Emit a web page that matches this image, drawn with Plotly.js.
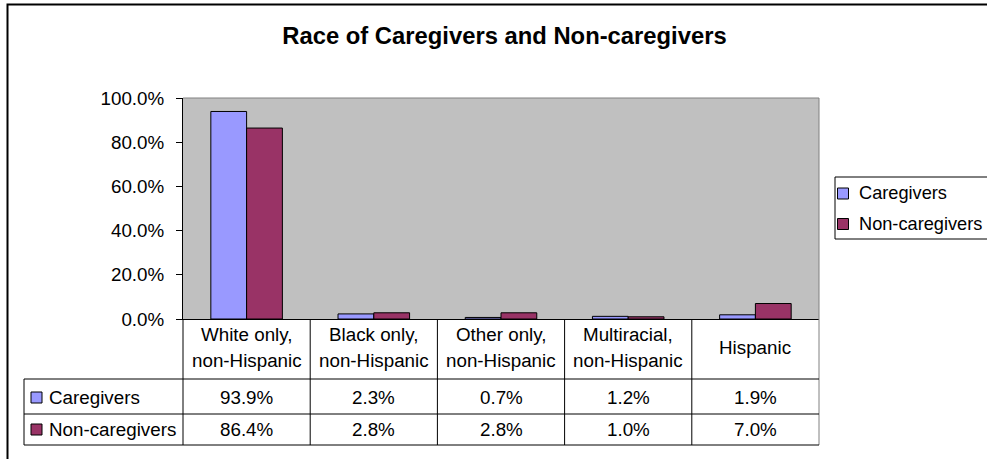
<!DOCTYPE html>
<html>
<head>
<meta charset="utf-8">
<script src="https://cdn.plot.ly/plotly-3.0.1.min.js"></script>
<style>html,body{margin:0;padding:0;background:#fff;}#chart{width:987px;height:459px;}</style>
</head>
<body>
<div id="chart"></div>
<script>
// ---- data ----
const chartTitle = "Race of Caregivers and Non-caregivers";
const categories = ["White only, non-Hispanic", "Black only, non-Hispanic", "Other only, non-Hispanic", "Multiracial, non-Hispanic", "Hispanic"];
const seriesNames = ["Caregivers", "Non-caregivers"];
const caregivers = [0.939, 0.023, 0.007, 0.012, 0.019];
const nonCaregivers = [0.864, 0.028, 0.028, 0.010, 0.070];
const yTicks = [0, 0.2, 0.4, 0.6, 0.8, 1.0];
const seriesColors = ["#9999FF", "#993366"];

// ---- layout helpers (pixel -> paper) ----
const W = 987, H = 459;
const ML = 183, MR = 168, MT = 98, MB = 140;
const PW = W - ML - MR, PH = H - MT - MB;
const px = v => (v - ML) / PW;
const py = v => (H - MB - v) / PH;
const FONT = "Liberation Sans, Arial, sans-serif";
const FS = 18.8;
const LEGFS = 18.2;

const seriesValues = [caregivers, nonCaregivers];

const traces = seriesNames.map((name, s) => ({
  type: "bar",
  name: name,
  x: categories,
  y: seriesValues[s],
  marker: { color: seriesColors[s], line: { color: "#000", width: 1 } },
  hoverinfo: "skip"
}));

const shapes = [];
const annotations = [];
const line = (x0, y0, x1, y1, color, width) => shapes.push({
  type: "line", xref: "paper", yref: "paper",
  x0: x0, y0: y0, x1: x1, y1: y1,
  line: { color: color || "#000", width: width || 1 }, layer: "above"
});

// outer chart border
shapes.push({ type: "rect", xref: "paper", yref: "paper",
  x0: px(7.5), x1: px(1010), y0: py(4.5), y1: py(480),
  line: { color: "#000", width: 2 }, layer: "above" });

// plot area top/right border (grey)
line(0, 1, 1, 1, "#808080", 1);
line(1, 1, 1, py(445), "#808080", 1);

// data table lines
[379, 414, 445].forEach(y => line(px(24), py(y), px(819), py(y), "#000", 1));
line(px(24), py(379), px(24), py(445), "#000", 1);
line(0, 0, 0, py(445), "#000", 1);
for (let i = 1; i < categories.length; i++) {
  shapes.push({ type: "line", xref: "x", yref: "paper",
    x0: i - 0.5, x1: i - 0.5, y0: 0, y1: py(445),
    line: { color: "#000", width: 1 }, layer: "above" });
}

// header cells
categories.forEach(c => {
  const idx = c.indexOf(", ");
  if (idx >= 0) {
    const l1 = c.slice(0, idx + 1), l2 = c.slice(idx + 2);
    annotations.push({ xref: "x", yref: "paper", x: c, y: py(334), text: l1, showarrow: false,
      xanchor: "center", yanchor: "middle", font: { family: FONT, size: FS, color: "#000" } });
    annotations.push({ xref: "x", yref: "paper", x: c, y: py(360), text: l2, showarrow: false,
      xanchor: "center", yanchor: "middle", font: { family: FONT, size: FS, color: "#000" } });
  } else {
    annotations.push({ xref: "x", yref: "paper", x: c, y: py(347), text: c, showarrow: false,
      xanchor: "center", yanchor: "middle", font: { family: FONT, size: FS, color: "#000" } });
  }
});

// value rows
const rowY = [397.5, 429.5];
seriesNames.forEach((name, s) => {
  const yc = rowY[s];
  shapes.push({ type: "rect", xref: "paper", yref: "paper",
    x0: px(31), x1: px(42), y0: py(yc - 5.5), y1: py(yc + 5.5),
    fillcolor: seriesColors[s], line: { color: "#000", width: 1 }, layer: "above" });
  annotations.push({ xref: "paper", yref: "paper", x: px(46.5), y: py(yc), text: name, showarrow: false,
    xanchor: "left", yanchor: "middle", font: { family: FONT, size: FS, color: "#000" } });
  categories.forEach((c, i) => {
    annotations.push({ xref: "x", yref: "paper", x: c, y: py(yc),
      text: (seriesValues[s][i] * 100).toFixed(1) + "%", showarrow: false,
      xanchor: "center", yanchor: "middle", font: { family: FONT, size: FS, color: "#000" } });
  });
});

// legend box
shapes.push({ type: "rect", xref: "paper", yref: "paper",
  x0: px(835), x1: px(1000), y0: py(239), y1: py(177),
  fillcolor: "#fff", line: { color: "#000", width: 1 }, layer: "above" });
const legY = [193.5, 224];
seriesNames.forEach((name, s) => {
  const yc = legY[s];
  shapes.push({ type: "rect", xref: "paper", yref: "paper",
    x0: px(837.5), x1: px(848.5), y0: py(yc - 5.5), y1: py(yc + 5.5),
    fillcolor: seriesColors[s], line: { color: "#000", width: 1 }, layer: "above" });
  annotations.push({ xref: "paper", yref: "paper", x: px(857), y: py(yc - 0.5), text: name, showarrow: false,
    xanchor: "left", yanchor: "middle", font: { family: FONT, size: LEGFS, color: "#000" } });
});

const layout = {
  width: W, height: H,
  margin: { l: ML, r: MR, t: MT, b: MB, pad: 0 },
  paper_bgcolor: "#fff",
  plot_bgcolor: "#C0C0C0",
  showlegend: false,
  barmode: "group",
  bargap: 0.4375,
  bargroupgap: 0,
  title: {
    text: "<b>" + chartTitle + "</b>",
    font: { family: FONT, size: 23.8, color: "#000" },
    xref: "container", x: 504.5 / W, xanchor: "center",
    yref: "container", y: 1 - 36 / H, yanchor: "middle"
  },
  xaxis: {
    type: "category",
    showticklabels: false, ticks: "",
    showgrid: false, zeroline: false,
    showline: true, linecolor: "#000", linewidth: 1,
    fixedrange: true
  },
  yaxis: {
    range: [0, 1],
    tickvals: yTicks, tickformat: ".1%",
    ticks: "outside", ticklen: 6, tickcolor: "#000", tickwidth: 1,
    ticklabelstandoff: 8,
    tickfont: { family: FONT, size: FS, color: "#000" },
    showgrid: false, zeroline: false,
    showline: true, linecolor: "#000", linewidth: 1,
    fixedrange: true
  },
  shapes: shapes,
  annotations: annotations
};

Plotly.newPlot("chart", traces, layout, { displayModeBar: false, staticPlot: true });
</script>
</body>
</html>
